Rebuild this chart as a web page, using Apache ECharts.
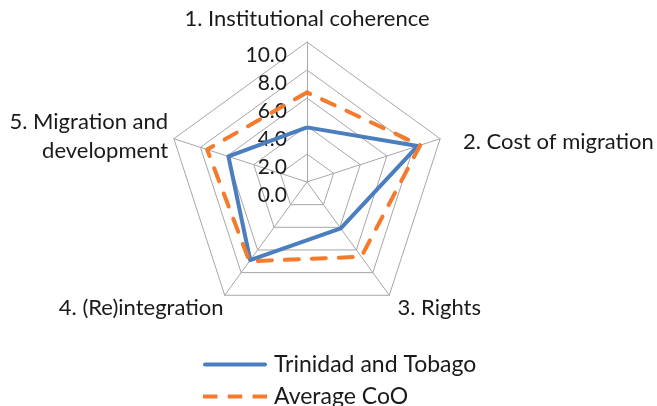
<!DOCTYPE html>
<html>
<head>
<meta charset="utf-8">
<script src="https://cdn.jsdelivr.net/npm/echarts@6/dist/echarts.min.js"></script>
<style>
  html, body { margin: 0; padding: 0; background: #fff; }
  #main { width: 657px; height: 406px; }
</style>
</head>
<body>
<div id="main"></div>
<script>
// 指标与数据
var indicators = ['1. Institutional coherence', '2. Cost of migration', '3. Rights', '4. (Re)integration', '5. Migration and\ndevelopment'];
var seriesNames = ['Trinidad and Tobago', 'Average CoO'];
var trinidad = [3.9, 8.3, 4.1, 6.9, 5.9];
var averageCoO = [6.4, 8.5, 6.6, 7.0, 7.5];
var axisMax = 10;

// 指标名称位置微调（与 indicators 同序）
var nameStyles = [
    { gap: 12, style: { lineHeight: 22 } },
    { gap: 24, style: { lineHeight: 22, verticalAlign: 'top' } },
    { gap: 2, style: { lineHeight: 22, verticalAlign: 'top', padding: [0, 0, 0, 7] } },
    { gap: 2, style: { lineHeight: 22, verticalAlign: 'top' } },
    { gap: 6, style: { lineHeight: 29 } }
];

// 雷达图默认逆时针排列，这里把顺序调成顺时针
function clockwise(arr) {
    return [arr[0]].concat(arr.slice(1).reverse());
}

var myChart = echarts.init(document.getElementById('main'));

var font = 'Lato';
var ns = clockwise(nameStyles);

option = {
    animation: false,
    legend: {
        orient: 'vertical',
        left: 198,
        top: 348,
        height: 70,
        itemWidth: 64,
        itemHeight: 5,
        itemGap: 9,
        textStyle: { fontFamily: font, fontSize: 23, color: '#1a1a1a', padding: [0, 0, 0, 2] },
        data: [
            { name: seriesNames[0], icon: 'path://M2,0 L62,0 A2,2 0 0 1 62,4 L2,4 A2,2 0 0 1 2,0 Z' },
            { name: seriesNames[1], icon: 'path://M0,0 L14,0 L14,4 L0,4 Z M24,0 L38,0 L38,4 L24,4 Z M48,0 L62,0 L62,4 L48,4 Z' }
        ]
    },
    radar: {
        center: [307, 182],
        radius: 140,
        startAngle: 90,
        shape: 'polygon',
        splitNumber: 5,
        nameGap: 6,
        axisName: {
            color: '#1a1a1a',
            fontFamily: font,
            fontSize: 22,
            lineHeight: 30
        },
        indicator: clockwise(indicators).map(function (n, i) {
            var ind = { name: n, min: 0, max: axisMax, nameGap: ns[i].gap, nameTextStyle: ns[i].style };
            if (i === 0) {
                ind.axisLabel = {
                    show: true,
                    color: '#1a1a1a',
                    fontFamily: font,
                    fontSize: 21,
                    margin: 20,
                    verticalAlign: 'top',
                    padding: [3, 0, 0, 0],
                    formatter: function (v) { return v.toFixed(1); }
                };
            }
            return ind;
        }),
        axisLine: { lineStyle: { color: '#a6a6a6', width: 1 } },
        splitLine: { lineStyle: { color: '#a6a6a6', width: 1 } },
        splitArea: { show: false }
    },
    series: [{
        type: 'radar',
        symbol: 'none',
        data: [
            {
                name: seriesNames[0],
                value: clockwise(trinidad),
                itemStyle: { color: '#4a7ebf' },
                lineStyle: { color: '#4a7ebf', width: 4 }
            },
            {
                name: seriesNames[1],
                value: clockwise(averageCoO),
                itemStyle: { color: '#f47a2c' },
                lineStyle: { color: '#f47a2c', width: 4, type: [14, 13], cap: 'round' }
            }
        ]
    }]
};

myChart.setOption(option);
</script>
</body>
</html>
